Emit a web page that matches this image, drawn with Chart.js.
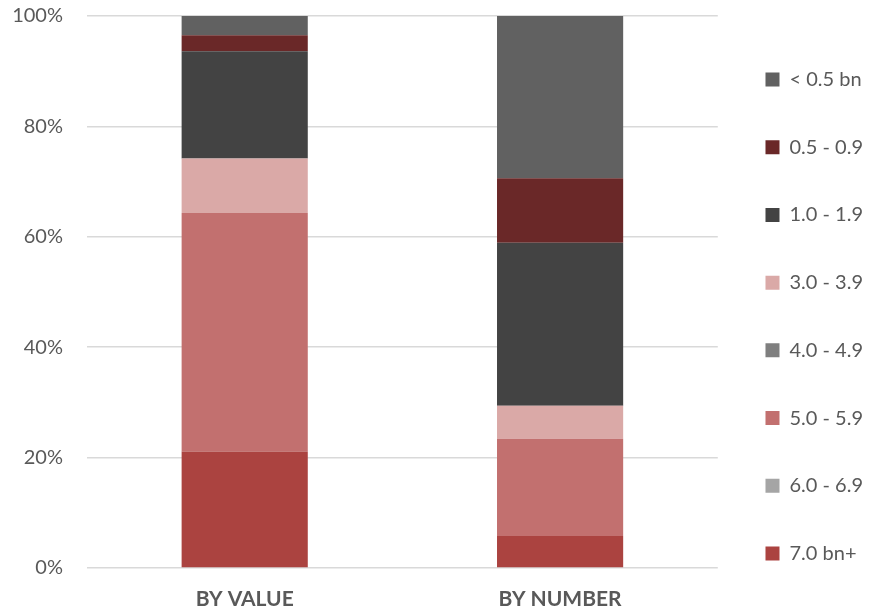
<!DOCTYPE html>
<html>
<head>
<meta charset="utf-8">
<script src="https://cdn.jsdelivr.net/npm/chart.js@4/dist/chart.umd.min.js"></script>
<style>
  html, body { margin: 0; padding: 0; background: #ffffff; }
  #wrap { width: 879px; height: 613px; }
</style>
</head>
<body>
<div id="wrap"><canvas id="sizeChart" width="879" height="613"></canvas></div>
<script>
// categories along the x axis
const categories = ['BY VALUE', 'BY NUMBER'];

// size bands, bottom of the stack first
const bands = ['7.0 bn+', '6.0 - 6.9', '5.0 - 5.9', '4.0 - 4.9', '3.0 - 3.9', '1.0 - 1.9', '0.5 - 0.9', '< 0.5 bn'];

// share of each band (%), [by value, by number]
const band70 = [21.1, 5.8];
const band60 = [0, 0];
const band50 = [43.2, 17.6];
const band40 = [0, 0];
const band30 = [9.9, 6.0];
const band10 = [19.4, 29.5];
const band05 = [2.9, 11.7];
const bandLt05 = [3.5, 29.4];

const yTicks = [0, 20, 40, 60, 80, 100];

const bandValues = [band70, band60, band50, band40, band30, band10, band05, bandLt05];
const bandColors = ['#ab4340', '#a5a5a5', '#c2706f', '#7f7f7f', '#daa9a7', '#434343', '#6a2828', '#616161'];

const fontFamily = "Lato, 'Open Sans', sans-serif";
const textColor = '#595959';

const ctx = document.getElementById('sizeChart');

new Chart(ctx, {
    type: 'bar',
    data: {
        labels: categories,
        datasets: bands.map((name, i) => ({
            label: name,
            data: bandValues[i],
            backgroundColor: bandColors[i],
            borderWidth: 0,
            categoryPercentage: 1,
            barPercentage: 0.4
        }))
    },
    options: {
        responsive: false,
        animation: false,
        layout: {
            padding: { top: 0, right: 6, bottom: 0, left: 0 }
        },
        scales: {
            x: {
                stacked: true,
                grid: { display: false },
                border: { display: false },
                afterFit: axis => {
                    axis.height = 45;
                },
                ticks: {
                    color: textColor,
                    padding: 11,
                    font: { family: fontFamily, size: 21, weight: 'bold' }
                }
            },
            y: {
                stacked: true,
                min: 0,
                max: 100,
                afterBuildTicks: axis => {
                    axis.ticks = yTicks.map(v => ({ value: v }));
                },
                // fixed axis width; tick padding would otherwise also pad top and bottom
                afterFit: axis => {
                    axis.width = 87;
                    axis.paddingTop = 16;
                    axis.paddingBottom = 16;
                },
                grid: {
                    color: '#d9d9d9',
                    lineWidth: 1.5,
                    drawTicks: false
                },
                border: { display: false },
                ticks: {
                    color: textColor,
                    padding: 24,
                    font: { family: fontFamily, size: 20 },
                    callback: v => v + '%'
                }
            }
        },
        plugins: {
            legend: {
                position: 'right',
                reverse: true,
                // blank title nudges the centred column down a little
                title: {
                    display: true,
                    text: ' ',
                    font: { size: 10 },
                    padding: 4
                },
                labels: {
                    color: textColor,
                    font: { family: fontFamily, size: 20 },
                    boxWidth: 14,
                    boxHeight: 14,
                    padding: 47.7
                }
            },
            tooltip: { enabled: false }
        }
    }
});
</script>
</body>
</html>
